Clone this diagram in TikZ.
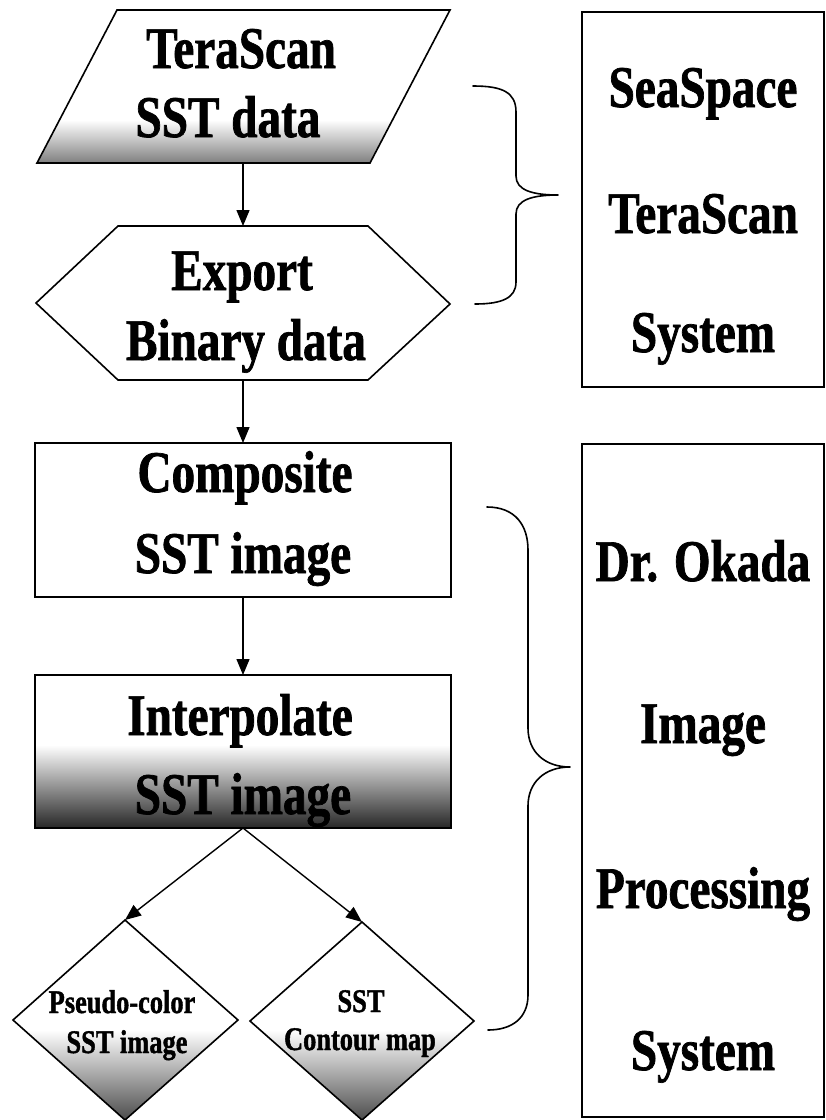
\documentclass[tikz,border=0pt]{standalone}
\usepackage{fontspec}
\setmainfont{Liberation Serif}[FakeStretch=0.8, BoldFeatures={FakeBold=1.2}]
\usetikzlibrary{arrows.meta}
\begin{document}
\begin{tikzpicture}[x=1pt,y=-1pt,
  shp/.style={draw=black, line width=1.6pt, line join=miter},
  big/.style={font=\fontsize{59}{61}\selectfont\bfseries, inner sep=0, anchor=base},
  small/.style={font=\fontsize{33}{35}\selectfont\bfseries, inner sep=0, anchor=base},
  arr/.style={line width=1.4pt, -{Triangle[length=16pt,width=13pt]}},
  bracepath/.style={line width=1.6pt, line cap=round, line join=round},
  hold/.style={inner sep=0, outer sep=0, minimum width=#1},
  boxnode/.style={draw=black, line width=1.5pt, inner sep=0, outer sep=0}
]
\useasboundingbox (0,0) rectangle (826,1120);
\fill[white] (0,0) rectangle (826,1120);

% ---------- placeholders for shapes (for anchoring connectors)
\node[hold=412pt, minimum height=153pt] (par) at (243,86.5) {};
\node[hold=414pt, minimum height=154pt] (hex) at (243,303) {};
\node[hold=226pt, minimum height=200pt] (dl) at (125,1020) {};
\node[hold=224pt, minimum height=198pt] (dr) at (362,1021) {};

% ---------- parallelogram
\begin{scope}
  \clip (117,10) -- (450,10) -- (370,163) -- (37,163) -- cycle;
  \shade[top color=white, bottom color=black!50] (30,120) rectangle (460,163);
\end{scope}
\draw[shp] (117,10) -- (450,10) -- (370,163) -- (37,163) -- cycle;

% ---------- hexagon
\draw[shp] (118,226) -- (368,226) -- (450,304) -- (368,380) -- (118,380) -- (36,303) -- cycle;

% ---------- composite box
\node[boxnode, line width=1.6pt, minimum width=416pt, minimum height=154pt] (comp) at (243,520) {};

% ---------- interpolate box
\shade[top color=white, middle color=black!40, bottom color=black!85] (35,745) rectangle (451,828);
\node[boxnode, line width=1.6pt, minimum width=416pt, minimum height=153pt] (interp) at (243,751.5) {};

% ---------- diamonds
\begin{scope}
  \clip (125,920) -- (238,1020) -- (125,1120) -- (13,1020) -- cycle;
  \shade[top color=white, bottom color=black!70] (0,1030) rectangle (250,1120);
\end{scope}
\draw[shp] (125,920) -- (238,1020) -- (125,1120) -- (13,1020) -- cycle;
\begin{scope}
  \clip (362,922) -- (474,1021) -- (362,1120) -- (250,1021) -- cycle;
  \shade[top color=white, bottom color=black!70] (240,1030) rectangle (480,1120);
\end{scope}
\draw[shp] (362,922) -- (474,1021) -- (362,1120) -- (250,1021) -- cycle;

% ---------- right boxes
\node[boxnode, minimum width=242pt, minimum height=375pt] (sys1) at (703,199.5) {};
\node[boxnode, minimum width=242pt, minimum height=673pt] (sys2) at (703,780.5) {};

% ---------- braces
\draw[bracepath] (473,86) .. controls (502,86) and (516,92) .. (516,112)
  -- (516,176) .. controls (516,190) and (532,195) .. (558,195)
  .. controls (532,195) and (516,200) .. (516,214)
  -- (516,282) .. controls (516,298) and (502,304) .. (475,304);
\draw[bracepath] (487,507) .. controls (515,507) and (528,525) .. (528,550)
  -- (528,728) .. controls (528,752) and (545,767) .. (570,767)
  .. controls (545,767) and (528,782) .. (528,806)
  -- (528,995) .. controls (528,1018) and (512,1030) .. (488,1030);

% ---------- connectors
\draw[arr] (par.south) -- (hex.north);
\draw[arr] (hex.south) -- (comp.north);
\draw[arr] (comp.south) -- (interp.north);
\draw[arr] (interp.south) -- (dl.north);
\draw[arr] (interp.south) -- (dr.north);

% ---------- texts
\node[big] (t1a) at (241,68) {TeraScan};
\node[big] (t1b) at (228,137) {SST data};
\node[big] (t2a) at (242,290) {Export};
\node[big] (t2b) at (246,360) {Binary data};
\node[big] (t3a) at (245,492) {Composite};
\node[big] (t3b) at (243,573) {SST image};
\node[big] (t4a) at (240,735) {Interpolate};
\node[big] (t4b) at (243,814) {SST image};
\node[small] (d1a) at (122,1013) {Pseudo-color};
\node[small] (d1b) at (127,1053) {SST image};
\node[small] (d2a) at (361,1012) {SST};
\node[small] (d2b) at (360,1050) {Contour map};
\node[big] (r1a) at (703,107) {SeaSpace};
\node[big] (r1b) at (703,233) {TeraScan};
\node[big] (r1c) at (703,352) {System};
\node[big] (r2a) at (703,581) {Dr. Okada};
\node[big] (r2b) at (703,743) {Image};
\node[big] (r2c) at (703,908) {Processing};
\node[big] (r2d) at (703,1070) {System};
\end{tikzpicture}
\end{document}
